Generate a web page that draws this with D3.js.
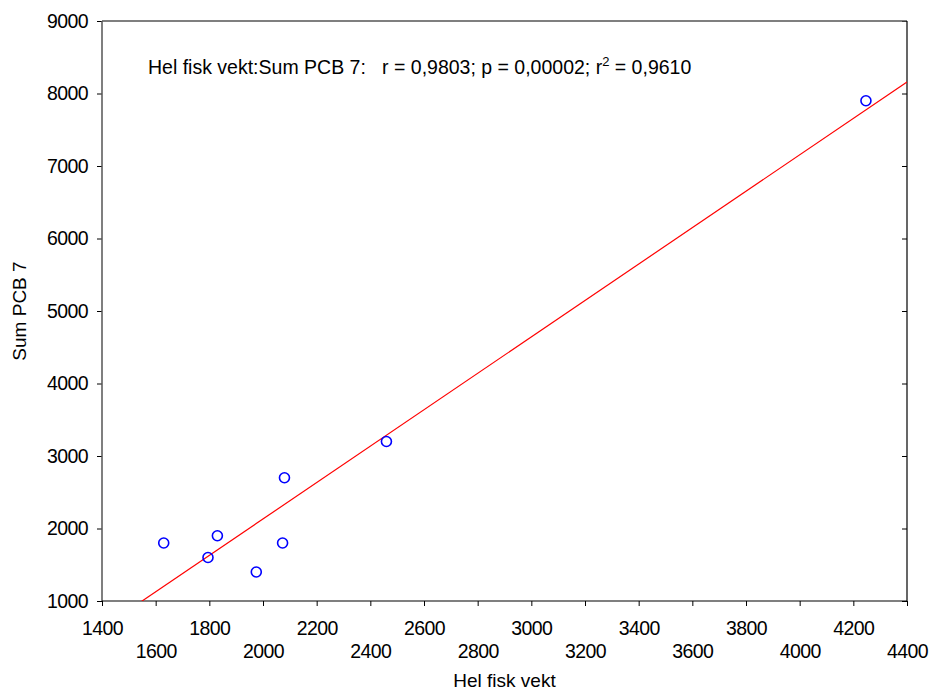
<!DOCTYPE html>
<html lang="no">
<head>
	<meta charset="utf-8" />
	<title>Hel fisk vekt : Sum PCB 7</title>
	<style>
	body {
		margin: 0;
		background: #fff;
		font-family: "Liberation Sans", Arial, sans-serif;
	}
	text {
		fill: #000;
	}
	.tick text {
		font-size: 19.5px;
		letter-spacing: -0.6px;
	}
	.point {
		fill: none;
		stroke: #0000ff;
		stroke-width: 1.6;
	}
	.fit {
		stroke: #ff0000;
		stroke-width: 1.2;
		fill: none;
	}
	</style>
</head>
<body>
	<script src="https://cdn.jsdelivr.net/npm/d3@7/dist/d3.min.js"></script>
	<script>
		// values
		var vekt = [1630, 1795, 1830, 1975, 2073, 2080, 2460, 4247];
		var pcb = [1800, 1600, 1900, 1400, 1800, 2700, 3200, 7900];
		var xTicks = [1400, 1600, 1800, 2000, 2200, 2400, 2600, 2800, 3000, 3200, 3400, 3600, 3800, 4000, 4200, 4400];
		var yTicks = [1000, 2000, 3000, 4000, 5000, 6000, 7000, 8000, 9000];
		var statsText = "Hel fisk vekt:Sum PCB 7:   r = 0,9803; p = 0,00002; r";
		var statsTail = " = 0,9610";

		var width = 931, height = 691;
		var margin = { top: 21, right: 24, bottom: 90, left: 102 };
		var w = width - margin.left - margin.right,
			h = height - margin.top - margin.bottom;

		var x = d3.scaleLinear().domain([1400, 4400]).range([0, w]);
		var y = d3.scaleLinear().domain([1000, 9000]).range([h, 0]);

		var svg = d3.select("body").append("svg")
			.attr("width", width).attr("height", height)
			.append("g")
			.attr("transform", "translate(" + margin.left + "," + margin.top + ")");

		svg.append("defs").append("clipPath").attr("id", "clip")
			.append("rect").attr("width", w).attr("height", h);

		// least squares fit
		var mx = d3.mean(vekt), my = d3.mean(pcb);
		var sxy = d3.sum(vekt, function(v, i) { return (v - mx) * (pcb[i] - my); });
		var sxx = d3.sum(vekt, function(v) { return (v - mx) * (v - mx); });
		var b = sxy / sxx, a = my - b * mx;

		var xAxis = d3.axisBottom(x).tickValues(xTicks).tickSize(5).tickPadding(5)
			.tickFormat(d3.format("d"));
		var yAxis = d3.axisLeft(y).tickValues(yTicks).tickSize(5).tickPadding(9)
			.tickFormat(d3.format("d"));

		var gx = svg.append("g").attr("transform", "translate(0," + h + ")").call(xAxis);
		gx.select(".domain").remove();
		gx.selectAll(".tick line").attr("stroke", "#000");
		gx.selectAll(".tick text").attr("y", function(d, i) { return i % 2 ? 43 : 20; })
			.attr("dy", "0.71em");

		var gy = svg.append("g").call(yAxis);
		gy.select(".domain").remove();
		gy.selectAll(".tick line").attr("stroke", "#000");

		// right side: inward ticks, no labels
		var gr = svg.append("g").attr("transform", "translate(" + w + ",0)")
			.call(d3.axisLeft(y).tickValues(yTicks).tickSize(5).tickFormat(""));
		gr.select(".domain").remove();
		gr.selectAll(".tick line").attr("stroke", "#000");

		// frame
		svg.append("line").attr("x1", 0).attr("x2", w).attr("y1", 0).attr("y2", 0)
			.attr("stroke", "#555").attr("stroke-width", 1.5);
		svg.append("line").attr("x1", 0).attr("x2", 0).attr("y1", 0).attr("y2", h)
			.attr("stroke", "#555").attr("stroke-width", 1.5);
		svg.append("line").attr("x1", w).attr("x2", w).attr("y1", 0).attr("y2", h)
			.attr("stroke", "#000").attr("stroke-width", 1.2);
		svg.append("line").attr("x1", 0).attr("x2", w).attr("y1", h).attr("y2", h)
			.attr("stroke", "#000").attr("stroke-width", 1.2);

		svg.append("line").attr("class", "fit").attr("clip-path", "url(#clip)")
			.attr("x1", x(1400)).attr("y1", y(a + b * 1400))
			.attr("x2", x(4400)).attr("y2", y(a + b * 4400));

		svg.selectAll("circle.point").data(vekt).enter().append("circle")
			.attr("class", "point")
			.attr("cx", function(d) { return x(d); })
			.attr("cy", function(d, i) { return y(pcb[i]); })
			.attr("r", 5);

		var stats = svg.append("text").attr("x", 46).attr("y", 53)
			.style("font-size", "19.5px").style("white-space", "pre");
		stats.append("tspan").text(statsText);
		stats.append("tspan").attr("dy", -8).style("font-size", "13px").text("2");
		stats.append("tspan").attr("dy", 8).text(statsTail);

		svg.append("text").attr("x", w / 2).attr("y", h + 86)
			.attr("text-anchor", "middle").style("font-size", "19px").text("Hel fisk vekt");

		svg.append("text").attr("transform", "translate(-76," + (h / 2) + ") rotate(-90)")
			.attr("text-anchor", "middle").style("font-size", "19px").text("Sum PCB 7");
	</script>
</body>
</html>
